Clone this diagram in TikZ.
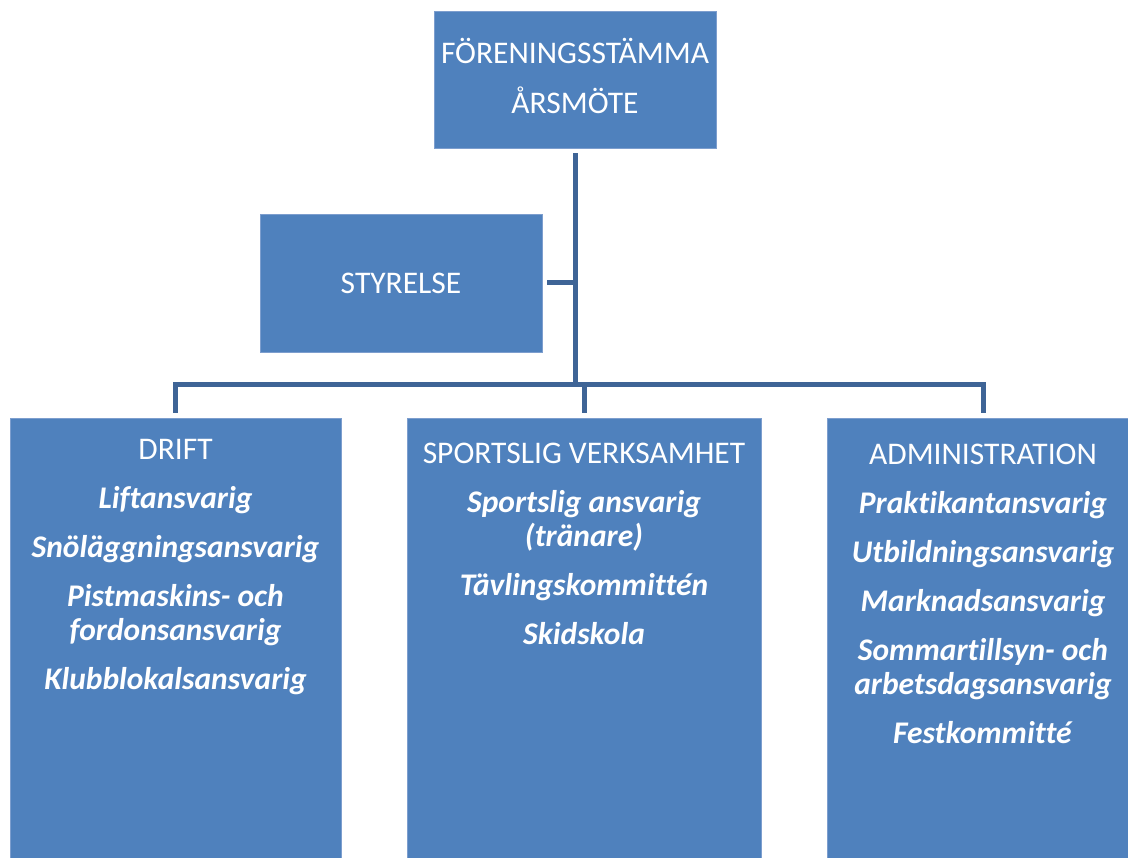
\documentclass[tikz,border=0pt]{standalone}
\usepackage{fontspec}
\setmainfont{Carlito}[Ligatures=NoCommon]

\definecolor{boxblue}{RGB}{79,129,189}
\definecolor{boxedge}{RGB}{125,158,206}
\definecolor{linkblue}{RGB}{62,100,150}
\newcommand{\roll}[1]{\textbf{\textit{#1}}}

\begin{document}
\begin{tikzpicture}[x=1pt,y=-1pt,
        box/.style={rectangle,fill=boxblue,draw=boxedge,line width=0.8pt,inner sep=0pt,
            text=white,align=center,font=\fontsize{31.5}{50}\selectfont},
        boxtext/.style={inner sep=0pt,text=white,align=center,anchor=north,
            font=\fontsize{31.5}{34}\selectfont},
        link/.style={draw=linkblue,line width=5pt}]
        \useasboundingbox (0,0) rectangle (1128,858);
        \clip (0,0) rectangle (1128,858);
        \node[box,minimum width=282pt,minimum height=137pt] (A) at (575,79.5) {};
        \node[box,minimum width=282pt,minimum height=138pt] (B) at (401,283) {STYRELSE};
        \node[box,minimum width=331pt,minimum height=450pt] (C) at (175.5,643) {};
        \node[box,minimum width=354pt,minimum height=450pt] (D) at (584,643) {};
        \node[box,minimum width=312pt,minimum height=450pt] (E) at (983,643) {};
        \node[boxtext,anchor=center,font=\fontsize{31.5}{50}\selectfont] (A1) at (575,75.5)
            {FÖRENINGSSTÄMMA\\ÅRSMÖTE};
        \node[boxtext] (C1) at (175.5,439) {DRIFT\\[15pt]
            \roll{Liftansvarig}\\[15pt]
            \roll{Snöläggningsansvarig}\\[15pt]
            \roll{Pistmaskins- och}\\\roll{fordonsansvarig}\\[15pt]
            \roll{Klubblokalsansvarig}};
        \node[boxtext] (D1) at (584,443) {SPORTSLIG VERKSAMHET\\[15pt]
            \roll{Sportslig ansvarig}\\\roll{(tränare)}\\[15pt]
            \roll{Tävlingskommittén}\\[15pt]
            \roll{Skidskola}};
        \node[boxtext] (E1) at (983,444) {ADMINISTRATION\\[15pt]
            \roll{Praktikantansvarig}\\[15pt]
            \roll{Utbildningsansvarig}\\[15pt]
            \roll{Marknadsansvarig}\\[15pt]
            \roll{Sommartillsyn- och}\\\roll{arbetsdagsansvarig}\\[15pt]
            \roll{Festkommitté}};
        \coordinate (bus) at (575,385);
        \draw[link] ([yshift=-5pt]A.south) -- (bus);
        \draw[link] ([xshift=5pt]B.east) -- (B.east -| bus);
        \draw[link] ([yshift=5pt]C.north) |- (bus) -| ([yshift=5pt]E.north);
        \draw[link] ([yshift=5pt]D.north) -- (D.north |- bus);
    \end{tikzpicture}
\end{document}
